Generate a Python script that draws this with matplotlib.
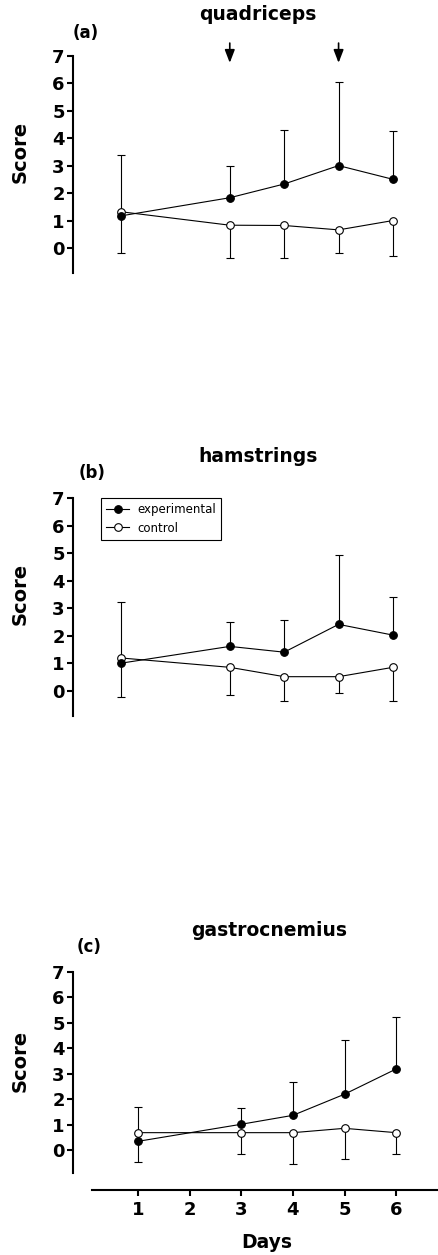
import numpy as np
import matplotlib.pyplot as plt
from matplotlib.transforms import blended_transform_factory

plt.rcParams['font.family'] = ['DejaVu Sans']

# days sampled (no measurement on day 2)
days = [1, 3, 4, 5, 6]

# quadriceps
quad_exp = [1.18, 1.84, 2.34, 3.01, 2.51]
quad_exp_err = [2.22, 1.17, 1.97, 3.06, 1.76]
quad_ctl = [1.33, 0.84, 0.83, 0.67, 1.01]
quad_ctl_err = [1.51, 1.19, 1.18, 0.83, 1.29]

# hamstrings
ham_exp = [1.00, 1.61, 1.40, 2.41, 2.02]
ham_exp_err = [2.22, 0.88, 1.16, 2.52, 1.40]
ham_ctl = [1.19, 0.85, 0.51, 0.51, 0.85]
ham_ctl_err = [1.43, 1.01, 0.87, 0.58, 1.21]

# gastrocnemius
gas_exp = [0.34, 1.01, 1.36, 2.19, 3.18]
gas_exp_err = [1.36, 0.63, 1.32, 2.12, 2.03]
gas_ctl = [0.68, 0.68, 0.68, 0.85, 0.68]
gas_ctl_err = [1.16, 0.82, 1.23, 1.19, 0.82]

muscles = ['quadriceps', 'hamstrings', 'gastrocnemius']
letters = ['(a)', '(b)', '(c)']
yticks = [0, 1, 2, 3, 4, 5, 6, 7]
xticks = [1, 2, 3, 4, 5, 6]
arrow_days = [3, 5]

W, H = 439, 1255
fig = plt.figure(figsize=(W / 100, H / 100), dpi=100)

def px(x, y):
    return x / W, 1 - y / H

# axes rectangles in pixels: (top of spine, bottom of spine)
boxes = [(56, 273), (498, 715.5), (971.7, 1172.9)]
xlims = [(0.118, 6.846), (0.118, 6.846), (-0.26, 6.83)]
title_pos = [((258, 15), (86, 33)), ((258, 457), (92, 473)), ((269, 930), (89, 947))]

data = [(quad_exp, quad_exp_err, quad_ctl, quad_ctl_err),
        (ham_exp, ham_exp_err, ham_ctl, ham_ctl_err),
        (gas_exp, gas_exp_err, gas_ctl, gas_ctl_err)]

axes = []
for i, (top, bot) in enumerate(boxes):
    ax = fig.add_axes([73 / W, 1 - bot / H, 1 - 73 / W, (bot - top) / H])
    axes.append(ax)
    exp, exp_err, ctl, ctl_err = data[i]

    # control: error bars point down
    eb = ax.errorbar(days, ctl, yerr=[ctl_err, np.zeros(len(days))], fmt='none',
                     ecolor='k', elinewidth=0.8, capsize=3.2, capthick=0.8, zorder=2)
    eb[1][1].set_visible(False)
    ax.plot(days, ctl, '-o', color='k', lw=0.8, ms=5.5, mfc='white', mec='k',
            mew=0.8, zorder=3, label='control')

    # experimental: error bars point up
    eb = ax.errorbar(days, exp, yerr=[np.zeros(len(days)), exp_err], fmt='none',
                     ecolor='k', elinewidth=0.8, capsize=3.2, capthick=0.8, zorder=2)
    eb[1][0].set_visible(False)
    ax.plot(days, exp, '-o', color='k', lw=0.8, ms=5.5, mfc='k', mec='k',
            mew=0.8, zorder=4, label='experimental')

    ax.set_xlim(*xlims[i])
    ax.set_ylim(-0.9, 7)
    ax.set_yticks(yticks)
    ax.spines['top'].set_visible(False)
    ax.spines['right'].set_visible(False)
    ax.spines['left'].set_linewidth(1.5)
    ax.tick_params(axis='y', direction='out', length=4.5, width=1.5, pad=1.5,
                   labelsize=13)
    for lab in ax.get_yticklabels():
        lab.set_fontweight('bold')

    if i < 2:
        ax.spines['bottom'].set_visible(False)
        ax.set_xticks([])
    else:
        ax.spines['bottom'].set_position(('outward', 12.5))
        ax.spines['bottom'].set_bounds(0.11, 6.83)
        ax.spines['bottom'].set_linewidth(1.5)
        ax.set_xticks(xticks)
        ax.tick_params(axis='x', direction='out', length=4.5, width=1.5, pad=3,
                       labelsize=13)
        for lab in ax.get_xticklabels():
            lab.set_fontweight('bold')

    # y label centred on the 0-7 range
    tr = blended_transform_factory(fig.transFigure, ax.transData)
    ax.text(20 / W, 3.5, 'Score', transform=tr, rotation=90, ha='center',
            va='center', fontsize=14, fontweight='bold')

    (tx, ty), (lx, ly) = title_pos[i]
    fig.text(*px(tx, ty), muscles[i], ha='center', va='center', fontsize=13.5,
             fontweight='bold')
    fig.text(*px(lx, ly), letters[i], ha='center', va='center', fontsize=12,
             fontweight='bold')

# treatment arrows on the quadriceps panel
for d in arrow_days:
    axes[0].annotate('', xy=(d, 6.75), xytext=(d, 7.47), annotation_clip=False,
                     arrowprops=dict(arrowstyle='-|>,head_length=0.65,head_width=0.25',
                                     color='k', lw=1.2, mutation_scale=12,
                                     shrinkA=0, shrinkB=0))

# legend on hamstrings panel
h, l = axes[1].get_legend_handles_labels()
leg = axes[1].legend(h[::-1], l[::-1], loc='upper left',
                     bbox_to_anchor=px(101, 498), bbox_transform=fig.transFigure,
                     borderaxespad=0, fontsize=8.5, frameon=True, fancybox=False,
                     edgecolor='k', framealpha=1, handlelength=1.9,
                     handletextpad=0.7, borderpad=0.45, labelspacing=0.45)
leg.get_frame().set_linewidth(0.8)

fig.text(*px(267, 1242), 'Days', ha='center', va='center', fontsize=13.5,
         fontweight='bold')

fig.savefig('out.png', dpi=100)
